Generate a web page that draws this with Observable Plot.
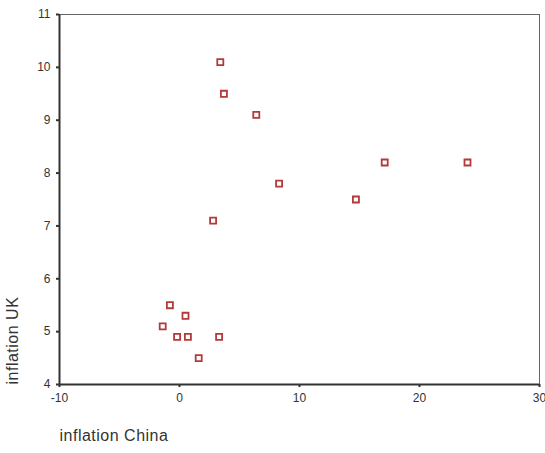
<!DOCTYPE html>
<html>
<head>
<meta charset="utf-8">
<script src="https://cdn.jsdelivr.net/npm/d3@7"></script>
<script src="https://cdn.jsdelivr.net/npm/@observablehq/plot@0.6"></script>
<style>
  html, body { margin: 0; padding: 0; background: #fff; }
  #chart { width: 545px; height: 453px; }
  g[aria-label="text"] text { letter-spacing: 0.5px; }
</style>
</head>
<body>
<div id="chart"></div>
<script>
const inflationChina = [-0.8, 0.5, -1.4, -0.2, 0.7, 3.3, 1.6, 3.4, 3.7, 6.4, 8.3, 2.8, 17.1, 24.0, 14.7];
const inflationUK    = [5.5, 5.3, 5.1, 4.9, 4.9, 4.9, 4.5, 10.1, 9.5, 9.1, 7.8, 7.1, 8.2, 8.2, 7.5];
const xTicks = [-10, 0, 10, 20, 30];
const yTicks = [4, 5, 6, 7, 8, 9, 10, 11];

const data = inflationChina.map((x, i) => ({x, y: inflationUK[i]}));
const fmt = d => String(d);

const chart = Plot.plot({
  width: 545,
  height: 453,
  marginTop: 14,
  marginBottom: 69,
  marginLeft: 59,
  marginRight: 6,
  style: {fontFamily: "Liberation Sans, Arial, sans-serif", fontSize: "12px", color: "#333", background: "#fff"},
  x: {domain: [-10, 30], ticks: xTicks, label: null},
  y: {domain: [4, 11], ticks: yTicks, label: null},
  marks: [
    Plot.frame({stroke: "#666", strokeWidth: 1}),
    Plot.ruleX([-10], {stroke: "#333", strokeWidth: 2}),
    Plot.ruleY([4], {stroke: "#333", strokeWidth: 2}),
    Plot.axisX({ticks: xTicks, tickFormat: fmt, tickSize: 3, tickPadding: 6, stroke: "#333", strokeWidth: 2, fill: "#333", fontSize: 12, label: null}),
    Plot.axisY({ticks: yTicks, tickFormat: fmt, tickSize: 3, tickPadding: 6, stroke: "#333", strokeWidth: 2, fill: "#333", fontSize: 12, label: null}),
    Plot.dot(data, {x: "x", y: "y", symbol: "square", r: 3.4, stroke: "#b23a3a", strokeWidth: 1.8, fill: "#fff"}),
    Plot.text(["inflation China"], {frameAnchor: "bottom-left", dx: 0, dy: 56, textAnchor: "start", fontSize: 16, fill: "#333"}),
    Plot.text(["inflation UK"], {frameAnchor: "bottom-left", dx: -42, dy: 0, rotate: -90, textAnchor: "start", fontSize: 16, fill: "#333"})
  ]
});
document.getElementById("chart").appendChild(chart);
</script>
</body>
</html>
